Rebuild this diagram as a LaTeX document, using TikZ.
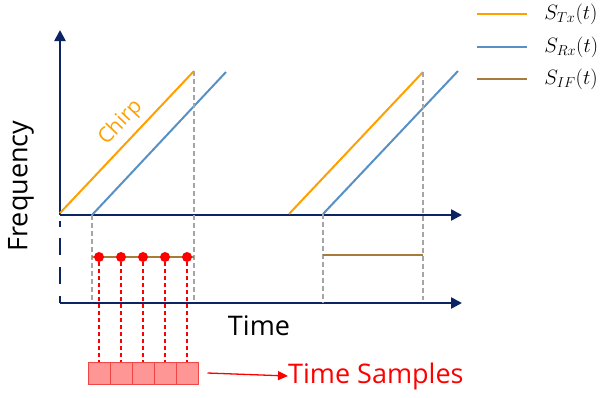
\documentclass[tikz,border=0pt]{standalone}
\usepackage{fontspec}
\setmainfont{Open Sans}
\usetikzlibrary{arrows.meta,positioning,calc}
\definecolor{axisnavy}{RGB}{12,36,97}
\definecolor{txorange}{RGB}{255,160,0}
\definecolor{rxblue}{RGB}{88,144,196}
\definecolor{ifbrown}{RGB}{166,124,58}
\definecolor{guidegray}{RGB}{165,165,165}
\definecolor{sampred}{RGB}{255,0,0}
\definecolor{cellpink}{RGB}{255,150,150}
\definecolor{cellline}{RGB}{240,70,70}

\begin{document}
\begin{tikzpicture}[x=1pt, y=-1pt,
  axis/.style={draw=axisnavy, line width=2.4pt, -{Triangle[length=11pt, width=11pt]}},
  tx/.style={draw=txorange, line width=2pt},
  rx/.style={draw=rxblue, line width=2pt},
  ifline/.style={draw=ifbrown, line width=2.4pt},
  guide/.style={draw=guidegray, line width=1.3pt, dash pattern=on 5pt off 3pt},
  samp/.style={circle, fill=sampred, inner sep=0pt, minimum size=10pt},
  drop/.style={draw=sampred, line width=1.5pt, dash pattern=on 4pt off 3pt},
  cell/.style={draw=cellline, fill=cellpink, line width=1pt,
               minimum width=22pt, minimum height=22pt, inner sep=0pt},
  lbl/.style={inner sep=0pt}]
\useasboundingbox (0,0) rectangle (604,397);

% axes
\coordinate (o) at (60,215);
\coordinate (ytip) at (60,30);
\coordinate (xtip) at (462,215);
\coordinate (o2) at (60,303);
\coordinate (x2tip) at (462,303);
\draw[axis] (o) -- (ytip);
\draw[axis] (o) -- (xtip);
\draw[axisnavy, line width=2.4pt] (60,221) -- (60,227) (60,238) -- (60,255)
  (60,267) -- (60,284) (60,296) -- (o2);
\draw[axis] (o2) -- (x2tip);

% chirps
\coordinate (tx1a) at (60,213);  \coordinate (tx1b) at (194,71);
\coordinate (rx1a) at (92,215);  \coordinate (rx1b) at (226,72);
\coordinate (tx2a) at (289,214); \coordinate (tx2b) at (423,72);
\coordinate (rx2a) at (323,214); \coordinate (rx2b) at (458,71);
\draw[tx] (tx1a) -- node[pos=0.55, sloped, above=3pt, text=txorange,
  font=\fontsize{21}{23}\selectfont] {Chirp} (tx1b);
\draw[rx] (rx1a) -- (rx1b);
\draw[tx] (tx2a) -- (tx2b);
\draw[rx] (rx2a) -- (rx2b);

% guides
\draw[guide] (rx1a) -- (92,303);
\draw[guide] (tx1b) -- (194,300);
\draw[guide] (rx2a) -- (323,303);
\draw[guide] (tx2b) -- (423,300);

% beat signal
\coordinate (if1a) at (92,257);  \coordinate (if1b) at (194,257);
\coordinate (if2a) at (323,255); \coordinate (if2b) at (423,255);
\draw[ifline] (if1a) -- (if1b);
\draw[ifline] (if2a) -- (if2b);

% samples
\foreach \i in {1,...,5} {
  \node[cell] (c\i) at ({77+22*\i},373) {};
  \node[samp] (d\i) at ({77+22*\i},257) {};
}
\foreach \i in {1,...,5}
  \draw[drop] (d\i) -- (c\i.north);
\node[lbl, text=sampred, font=\fontsize{27}{30}\selectfont, anchor=west] (ts) at (288,376) {Time Samples};
\draw[sampred, line width=1.3pt, -{Triangle[length=10pt, width=9pt]}] ($(c5.east)+(9,0)$) -- (ts.west);

% axis labels
\node[lbl, font=\fontsize{27}{30}\selectfont] (tm) at (259,326) {Time};
\node[lbl, font=\fontsize{27}{30}\selectfont, rotate=90] (fq) at (21,186) {Frequency};

% legend
\coordinate (lg1) at (477,14);
\coordinate (lg2) at (477,47);
\coordinate (lg3) at (477,79);
\draw[tx, line width=2.6pt] (lg1) -- ++(50,0) node[lbl, right=16pt, font=\fontsize{20}{22}\selectfont] (ltx) {$S_{Tx}(t)$};
\draw[rx, line width=2.6pt] (lg2) -- ++(50,0) node[lbl, right=16pt, font=\fontsize{20}{22}\selectfont] (lrx) {$S_{Rx}(t)$};
\draw[ifline, line width=2.6pt] (lg3) -- ++(50,0) node[lbl, right=16pt, font=\fontsize{20}{22}\selectfont] (lif) {$S_{IF}(t)$};
\end{tikzpicture}
\end{document}
